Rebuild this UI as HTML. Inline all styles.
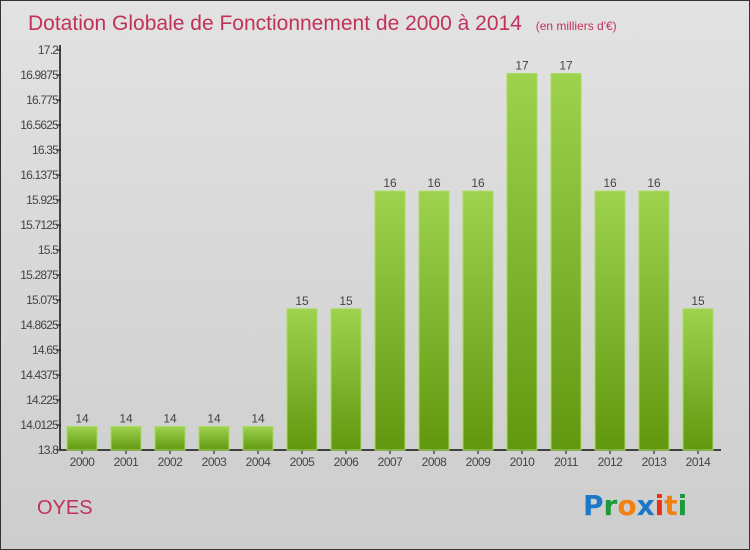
<!DOCTYPE html>
<html><head><meta charset="utf-8"><style>
html,body{margin:0;padding:0}
body{width:750px;height:550px;overflow:hidden;font-family:"Liberation Sans",sans-serif}
#frame{position:absolute;left:0;top:0;width:748px;height:548px;border:1px solid #333;background:linear-gradient(#e2e2e2,#cdcdcd)}
</style></head><body>
<div id="frame">
<svg id="chart" width="750" height="550" style="position:absolute;left:-1px;top:-1px">
<defs><linearGradient id="bg" x1="0" y1="0" x2="0" y2="1"><stop offset="0" stop-color="#9dd24f"/><stop offset="1" stop-color="#62980f"/></linearGradient></defs>
<text x="28" y="30" font-size="21" fill="#c0325a">Dotation Globale de Fonctionnement de 2000 à 2014 <tspan font-size="12" dx="8">(en milliers d'€)</tspan></text>
<text x="37" y="514" font-size="20" fill="#c0325a">OYES</text>
<g font-size="28" font-weight="bold" font-family="'DejaVu Sans',sans-serif">
<text x="583" y="515"><tspan fill="#1e78c8">P</tspan><tspan fill="#1a9a3a">r</tspan><tspan fill="#f08010">o</tspan><tspan fill="#1e78c8">x</tspan><tspan fill="#e83010">i</tspan><tspan fill="#f08010">t</tspan><tspan fill="#1a9a3a">i</tspan></text></g>
<g id="axes"></g><g id="bars"></g>
</svg></div>
<script>
const categories=["2000","2001","2002","2003","2004","2005","2006","2007","2008","2009","2010","2011","2012","2013","2014"];
const values=[14,14,14,14,14,15,15,16,16,16,17,17,16,16,15];
const tickLabels=["13.8","14.0125","14.225","14.4375","14.65","14.8625","15.075","15.2875","15.5","15.7125","15.925","16.1375","16.35","16.5625","16.775","16.9875","17.2"];
const yMin=13.8,yMax=17.2,x0=60,x1=720,yTop=50,yBot=450;
const NS="http://www.w3.org/2000/svg";
const y=v=>yBot-(v-yMin)/(yMax-yMin)*(yBot-yTop);
const band=(x1-x0)/categories.length;
const xc=i=>x0+band*(i+0.5);
function mk(t,a,p){const e=document.createElementNS(NS,t);for(const k in a)e.setAttribute(k,a[k]);p.appendChild(e);return e;}
const ax=document.getElementById('axes'),bs=document.getElementById('bars');
const yl=mk('line',{x1:x0,y1:yTop-5,x2:x0,y2:yBot,stroke:'#111','stroke-width':1.5},ax);


const xl=mk('line',{x1:x0,y1:yBot,x2:x1+1,y2:yBot,stroke:'#111','stroke-width':1.5},ax);


tickLabels.forEach(l=>{const v=parseFloat(l),yy=y(v);
mk('line',{x1:x0-4,y1:yy,x2:x0+1,y2:yy,stroke:'#111'},ax);
const t=mk('text',{x:x0-2,y:yy+4,'text-anchor':'end','font-size':12,fill:'#444','letter-spacing':'-0.8'},ax);t.textContent=l;

});
categories.forEach((c,i)=>{const cx=xc(i);
mk('line',{x1:cx,y1:yBot,x2:cx,y2:yBot+4,stroke:'#111'},ax);
const t=mk('text',{x:cx,y:yBot+16,'text-anchor':'middle','font-size':12,fill:'#444','letter-spacing':'-0.5'},ax);t.textContent=c;


const r=mk('rect',{x:cx-15,y:y(values[i]),width:30,height:yBot-y(values[i]),fill:'url(#bg)',stroke:'#a8dc60','stroke-width':1},bs);


const vl=mk('text',{x:cx,y:y(values[i])-4,'text-anchor':'middle','font-size':12,fill:'#444'},bs);vl.textContent=values[i];

});
</script>
</body></html>
